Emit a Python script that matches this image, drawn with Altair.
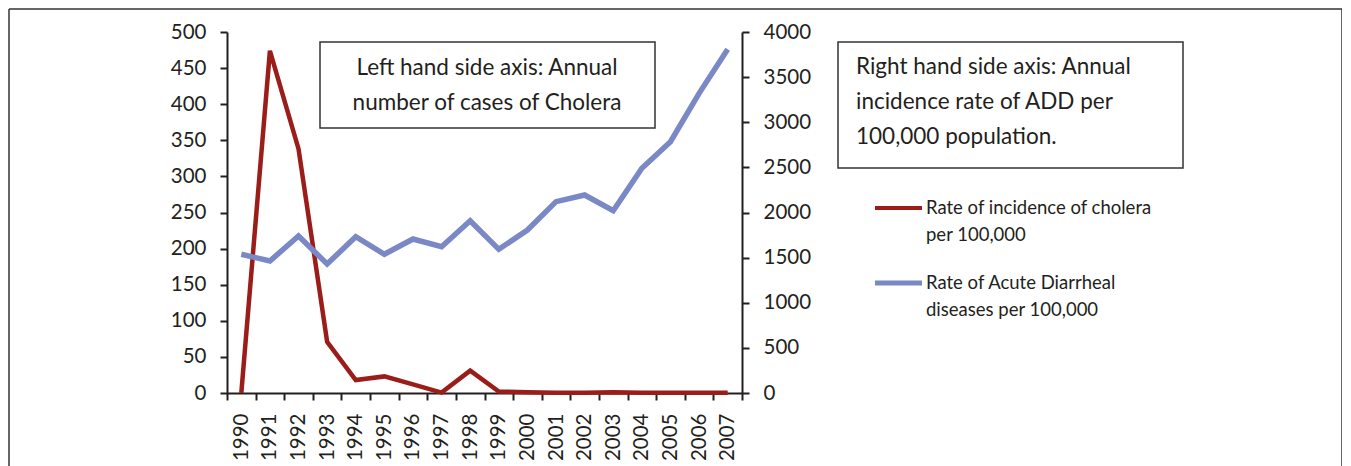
import altair as alt
import pandas as pd

years = [str(y) for y in range(1990, 2008)]
cholera = [0, 474, 338, 71, 18, 23, 12, 0.5, 31, 2, 1, 0.5, 0.5, 1, 0.5, 0.5, 0.5, 0.5]
add_rate = [1537, 1463, 1740, 1429, 1732, 1537, 1706, 1621, 1909, 1592, 1806,
            2120, 2194, 2020, 2490, 2785, 3320, 3808]

left_ticks = list(range(0, 501, 50))
right_ticks = list(range(0, 4001, 500))

box1_lines = ["Left hand side axis: Annual", "number of cases of Cholera"]
box2_lines = ["Right hand side axis: Annual", "incidence rate of ADD per", "100,000 population."]
legend_lines_red = ["Rate of incidence of cholera", "per 100,000"]
legend_lines_blue = ["Rate of Acute Diarrheal", "diseases per 100,000"]

RED = "#9b1d1a"
BLUE = "#7b88c6"
INK = "#231f20"
FONT = "Lato"
FS_TICK = 20.5
FS_BOX = 22.5
FS_LEG = 18.5

df = pd.DataFrame({"year": years, "cholera": cholera, "add": add_rate})

x_enc = alt.X(
    "year:O",
    sort=years,
    bandPosition=0.5,
    scale=alt.Scale(type="band", paddingInner=0, paddingOuter=0),
    axis=alt.Axis(
        title=None, labelAngle=-90, labelFont=FONT, labelFontSize=FS_TICK, labelColor=INK,
        tickBand="extent", tickSize=7, tickWidth=2, tickColor=INK,
        domainColor=INK, domainWidth=2, labelPadding=13,
    ),
)

red = alt.Chart(df).mark_line(color=RED, strokeWidth=4.5, strokeJoin="miter").encode(
    x=x_enc,
    y=alt.Y(
        "cholera:Q",
        scale=alt.Scale(domain=[0, 500], nice=False, zero=True),
        axis=alt.Axis(
            title=None, orient="left", values=left_ticks, grid=False, format="d",
            labelFont=FONT, labelFontSize=FS_TICK, labelColor=INK,
            tickSize=7, tickWidth=2, tickColor=INK,
            domainColor=INK, domainWidth=2, labelPadding=14,
        ),
    ),
)

blue = alt.Chart(df).mark_line(color=BLUE, strokeWidth=5.5, strokeJoin="miter").encode(
    x=x_enc,
    y=alt.Y(
        "add:Q",
        scale=alt.Scale(domain=[0, 4000], nice=False, zero=True),
        axis=alt.Axis(
            title=None, orient="right", values=right_ticks, grid=False, format="d",
            labelFont=FONT, labelFontSize=FS_TICK, labelColor=INK,
            tickSize=7, tickWidth=2, tickColor=INK,
            domainColor=INK, domainWidth=2, labelPadding=14,
        ),
    ),
)

one = alt.Data(values=[{"k": 0}])

def box(x1, x2, y1, y2):
    return alt.Chart(one).mark_rect(fill="white", stroke="#333333", strokeWidth=1.5).encode(
        x=alt.value(x1), x2=alt.value(x2), y=alt.value(y1), y2=alt.value(y2)
    )

def txt(s, x, y, fs, align="left"):
    return alt.Chart(one).mark_text(
        text=s, align=align, baseline="middle", font=FONT, fontSize=fs, color=INK
    ).encode(x=alt.value(x), y=alt.value(y))

def rule(x1, x2, y1, y2, color="#333333", w=1.5):
    return alt.Chart(one).mark_rule(color=color, strokeWidth=w).encode(
        x=alt.value(x1), x2=alt.value(x2), y=alt.value(y1), y2=alt.value(y2)
    )

layers = []
# frame
layers.append(rule(-218, 1115, -23, -23))
layers.append(rule(-218, -218, -23, 440))
layers.append(rule(1115, 1115, -23, 440))
# box 1
layers.append(box(93, 428, 10, 96))
for i, s in enumerate(box1_lines):
    layers.append(txt(s, 260, 36 + 35 * i, FS_BOX, align="center"))
# box 2
layers.append(box(611, 956, 10, 136))
for i, s in enumerate(box2_lines):
    layers.append(txt(s, 629, 35 + 35 * i, FS_BOX))
# legend
layers.append(rule(648, 695, 176, 176, color=RED, w=4))
for i, s in enumerate(legend_lines_red):
    layers.append(txt(s, 699, 176 + 27 * i, FS_LEG))
layers.append(rule(648, 695, 251, 251, color=BLUE, w=5))
for i, s in enumerate(legend_lines_blue):
    layers.append(txt(s, 699, 251 + 27 * i, FS_LEG))

chart = alt.layer(red, blue, *layers).resolve_scale(y="independent").properties(
    width=515,
    height=361,
    padding={"left": 219, "top": 24, "right": 600, "bottom": 73},
    autosize=alt.AutoSizeParams(type="none"),
).configure_view(stroke=None)

chart.save("out.html", embed_options={"renderer": "svg", "actions": False})
